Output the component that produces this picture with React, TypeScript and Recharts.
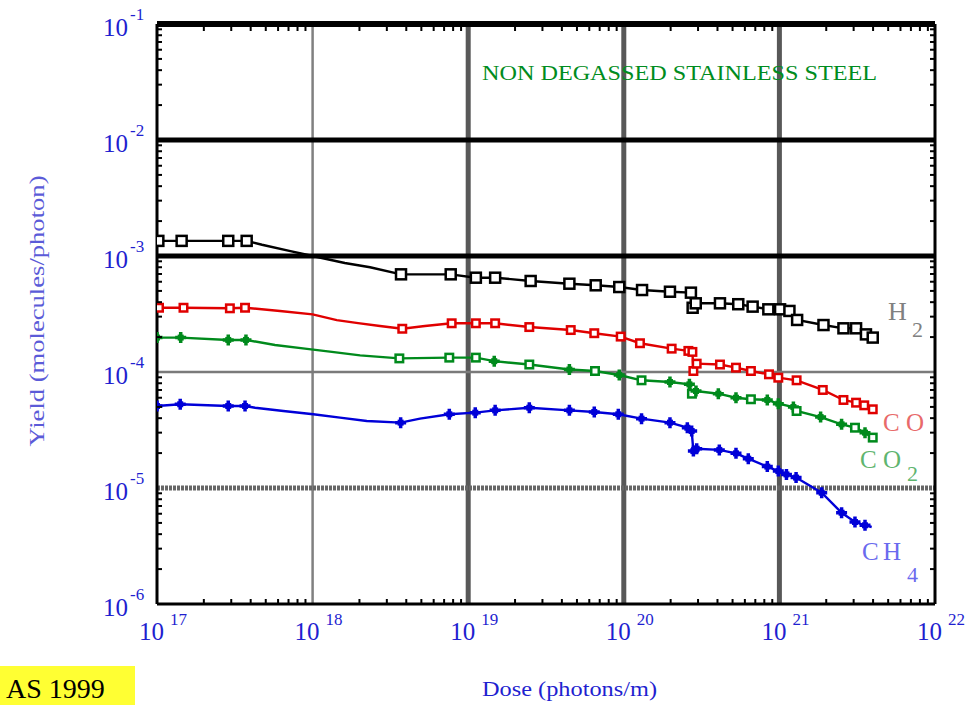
import React from "react"
import { LineChart, Line, XAxis, YAxis, ReferenceLine } from "recharts"

const W = 965
const H = 705
const PLOT = { left: 157, right: 935, top: 24, bottom: 604 }
const SERIF = '"Liberation Serif", "Times New Roman", serif'
const LABEL_BLUE = "#1f1fd0"

// axis decades and their exponent labels
const xDecades = [1e17, 1e18, 1e19, 1e20, 1e21, 1e22]
const xExponents = ["17", "18", "19", "20", "21", "22"]
const yDecades = [1e-6, 1e-5, 1e-4, 1e-3, 1e-2, 1e-1]
const yExponents = ["-6", "-5", "-4", "-3", "-2", "-1"]
const minorSteps = [2, 3, 4, 5, 6, 7, 8, 9]

// marker codes per point: s = open square, p = plus, - = no marker
const h2Dose = [1.02e17, 1.44e17, 2.87e17, 3.77e17, 4.73e17, 7.2e17, 1.0e18, 1.61e18, 2.34e18, 3.7e18, 7.72e18, 1.12e19, 1.49e19, 2.52e19, 4.47e19, 6.6e19, 9.35e19, 1.31e20, 1.98e20, 2.7e20, 2.77e20, 2.9e20, 4.15e20, 5.44e20, 6.73e20, 8.49e20, 1.01e21, 1.16e21, 1.3e21, 1.92e21, 2.58e21, 3.11e21, 3.6e21, 3.98e21]
const h2Yield = [1.35e-3, 1.35e-3, 1.35e-3, 1.35e-3, 1.25e-3, 1.1e-3, 1.0e-3, 8.7e-4, 8.0e-4, 6.95e-4, 6.95e-4, 6.5e-4, 6.5e-4, 6.09e-4, 5.77e-4, 5.59e-4, 5.4e-4, 5.09e-4, 4.92e-4, 4.83e-4, 3.58e-4, 3.91e-4, 3.91e-4, 3.84e-4, 3.66e-4, 3.47e-4, 3.47e-4, 3.36e-4, 2.81e-4, 2.54e-4, 2.38e-4, 2.38e-4, 2.11e-4, 1.98e-4]
const h2Marks = "ssss-----sssssssssssssssssssssssss"

const coDose = [1.03e17, 1.48e17, 2.94e17, 3.68e17, 6.17e17, 1.0e18, 1.43e18, 1.96e18, 2.71e18, 3.77e18, 5.27e18, 7.83e18, 1.12e19, 1.49e19, 2.47e19, 4.56e19, 6.46e19, 9.55e19, 1.27e20, 2.03e20, 2.6e20, 2.76e20, 2.8e20, 2.94e20, 4.15e20, 5.26e20, 6.56e20, 8.57e20, 9.84e20, 1.29e21, 1.9e21, 2.58e21, 3.11e21, 3.51e21, 3.98e21]
const coYield = [3.58e-4, 3.58e-4, 3.54e-4, 3.58e-4, 3.36e-4, 3.14e-4, 2.8e-4, 2.64e-4, 2.49e-4, 2.36e-4, 2.49e-4, 2.63e-4, 2.63e-4, 2.63e-4, 2.44e-4, 2.3e-4, 2.16e-4, 2.02e-4, 1.77e-4, 1.59e-4, 1.52e-4, 1.49e-4, 1.02e-4, 1.18e-4, 1.16e-4, 1.09e-4, 1.02e-4, 9.55e-5, 8.93e-5, 8.48e-5, 7.0e-5, 5.74e-5, 5.44e-5, 5.16e-5, 4.77e-5]
const coMarks = "ssss-----s-ssssssssssssssssssssssss"

const co2Dose = [1.0e17, 1.42e17, 2.87e17, 3.73e17, 5.73e17, 8.93e17, 1.33e18, 2.02e18, 3.61e18, 7.56e18, 1.12e19, 1.47e19, 2.47e19, 4.47e19, 6.53e19, 9.35e19, 1.3e20, 1.98e20, 2.64e20, 2.74e20, 2.91e20, 4.05e20, 5.26e20, 6.56e20, 8.36e20, 9.84e20, 1.23e21, 1.29e21, 1.84e21, 2.51e21, 3.06e21, 3.55e21, 3.98e21]
const co2Yield = [1.98e-4, 1.98e-4, 1.89e-4, 1.89e-4, 1.71e-4, 1.59e-4, 1.49e-4, 1.39e-4, 1.31e-4, 1.33e-4, 1.33e-4, 1.24e-4, 1.16e-4, 1.05e-4, 1.02e-4, 9.42e-5, 8.48e-5, 8.2e-5, 7.83e-5, 6.5e-5, 6.86e-5, 6.5e-5, 6.0e-5, 5.82e-5, 5.74e-5, 5.33e-5, 4.99e-5, 4.61e-5, 4.09e-5, 3.54e-5, 3.31e-5, 3.0e-5, 2.72e-5]
const co2Marks = "pppp----ssspspspsppspppspppsppsps"

const ch4Dose = [1.0e17, 1.41e17, 2.87e17, 3.68e17, 4.27e17, 6.49e17, 1.01e18, 1.5e18, 2.23e18, 3.68e18, 4.9e18, 7.56e18, 1.11e19, 1.49e19, 2.47e19, 4.47e19, 6.46e19, 9.22e19, 1.3e20, 1.98e20, 2.56e20, 2.73e20, 2.8e20, 2.94e20, 4.11e20, 5.26e20, 6.31e20, 8.36e20, 9.84e20, 1.11e21, 1.28e21, 1.87e21, 2.51e21, 3.06e21, 3.55e21, 3.92e21]
const ch4Yield = [5.09e-5, 5.27e-5, 5.09e-5, 5.09e-5, 4.92e-5, 4.61e-5, 4.32e-5, 4.04e-5, 3.78e-5, 3.66e-5, 3.96e-5, 4.32e-5, 4.46e-5, 4.67e-5, 4.92e-5, 4.67e-5, 4.52e-5, 4.32e-5, 3.96e-5, 3.66e-5, 3.31e-5, 3.1e-5, 2.08e-5, 2.18e-5, 2.13e-5, 1.99e-5, 1.79e-5, 1.53e-5, 1.4e-5, 1.31e-5, 1.23e-5, 9.1e-6, 6.12e-6, 5.09e-6, 4.77e-6, 4.61e-6]
const ch4Marks = "pppp-----p-pppppppppppppppppppppppp"

const toSeries = (dose: number[], yld: number[], marks: string) =>
  dose.map((d, i) => ({ dose: d, y: yld[i], m: marks[i] || "-" }))

const h2Data = toSeries(h2Dose, h2Yield, h2Marks)
const coData = toSeries(coDose, coYield, coMarks)
const co2Data = toSeries(co2Dose, co2Yield, co2Marks)
const ch4Data = toSeries(ch4Dose, ch4Yield, ch4Marks)

const withMinors = (decades: number[]) => [
  ...decades,
  ...decades.slice(0, -1).flatMap((d) => minorSteps.map((s) => s * d)),
]
const xTicks = withMinors(xDecades)
const yTicks = withMinors(yDecades)

const decadeIndex = (decades: number[], v: number) =>
  decades.findIndex((d) => Math.abs(v / d - 1) < 1e-6)

function XTick(props: any) {
  const { x, payload } = props
  const i = decadeIndex(xDecades, payload.value)
  if (i < 0) {
    return (
      <g>
        <line x1={x} x2={x} y1={PLOT.bottom} y2={PLOT.bottom - 5} stroke="#000" strokeWidth={2} />
        <line x1={x} x2={x} y1={PLOT.top + 3} y2={PLOT.top + 7} stroke="#000" strokeWidth={2} />
      </g>
    )
  }
  return (
    <g fontFamily={SERIF} fill={LABEL_BLUE}>
      <text x={x + 7} y={640} textAnchor="end" fontSize={25}>10</text>
      <text x={x + 13} y={625} fontSize={17}>{xExponents[i]}</text>
    </g>
  )
}

function YTick(props: any) {
  const { y, payload } = props
  const i = decadeIndex(yDecades, payload.value)
  if (i < 0) {
    return (
      <g>
        <line x1={PLOT.left} x2={PLOT.left + 5} y1={y} y2={y} stroke="#000" strokeWidth={2} />
        <line x1={PLOT.right} x2={PLOT.right - 5} y1={y} y2={y} stroke="#000" strokeWidth={2} />
      </g>
    )
  }
  return (
    <g fontFamily={SERIF} fill={LABEL_BLUE}>
      <text x={128} y={y + 12} textAnchor="end" fontSize={25}>10</text>
      <text x={130} y={y - 4} fontSize={17}>{yExponents[i]}</text>
    </g>
  )
}

const makeDot = (color: string, sq: number) => (props: any) => {
  const { cx, cy, payload, index } = props
  if (cx == null || cy == null || payload.m === "-") return <g key={index} />
  if (payload.m === "s") {
    return (
      <rect key={index} x={cx - sq / 2} y={cy - sq / 2} width={sq} height={sq}
        fill="#fff" stroke={color} strokeWidth={2.5} />
    )
  }
  return (
    <g key={index}>
      <path d={`M${cx - 5.5},${cy}H${cx + 5.5}M${cx},${cy - 5.5}V${cy + 5.5}`} stroke={color} strokeWidth={3.5} />
      <rect x={cx - 3} y={cy - 3} width={6} height={6} fill={color} />
    </g>
  )
}

export default function App() {
  return (
    <div style={{ position: "absolute", left: 0, top: 0, width: W, height: H, background: "#fff", overflow: "hidden" }}>
      <LineChart width={W} height={H} margin={{ top: 24, right: 30, bottom: 0, left: 0 }}>
        <XAxis dataKey="dose" type="number" scale="log" domain={[1e17, 1e22]} ticks={xTicks}
          interval={0} tick={<XTick />} tickLine={false} axisLine={false} height={101} allowDataOverflow />
        <YAxis type="number" scale="log" domain={[1e-6, 1e-1]} ticks={yTicks}
          interval={0} tick={<YTick />} tickLine={false} axisLine={false} width={157} allowDataOverflow />

        {/* grid */}
        <ReferenceLine x={1e18} stroke="#808080" strokeWidth={2.5} />
        <ReferenceLine x={1e19} stroke="#585858" strokeWidth={5} />
        <ReferenceLine x={1e20} stroke="#585858" strokeWidth={5} />
        <ReferenceLine x={1e21} stroke="#585858" strokeWidth={5} />
        <ReferenceLine y={1e-2} stroke="#000" strokeWidth={5} />
        <ReferenceLine y={1e-3} stroke="#000" strokeWidth={5} />
        <ReferenceLine y={1e-4} stroke="#7a7a7a" strokeWidth={2.5} />
        <ReferenceLine y={1e-5} stroke="#666" strokeWidth={5} strokeDasharray="3 1" />

        {/* frame */}
        <ReferenceLine y={1e-1} stroke="#000" strokeWidth={6} />
        <ReferenceLine y={1e-6} stroke="#000" strokeWidth={3} />
        <ReferenceLine x={1e17} stroke="#000" strokeWidth={3} />
        <ReferenceLine x={1e22} stroke="#000" strokeWidth={3} />

        <Line data={h2Data} dataKey="y" type="linear" stroke="#000" strokeWidth={2.4}
          dot={makeDot("#000", 10)} activeDot={false} isAnimationActive={false} />
        <Line data={coData} dataKey="y" type="linear" stroke="#e00000" strokeWidth={2.4}
          dot={makeDot("#e00000", 7.5)} activeDot={false} isAnimationActive={false} />
        <Line data={co2Data} dataKey="y" type="linear" stroke="#008a1c" strokeWidth={2.4}
          dot={makeDot("#008a1c", 7.5)} activeDot={false} isAnimationActive={false} />
        <Line data={ch4Data} dataKey="y" type="linear" stroke="#0000d8" strokeWidth={2.4}
          dot={makeDot("#0000d8", 7)} activeDot={false} isAnimationActive={false} />
      </LineChart>

      <svg width={W} height={H} style={{ position: "absolute", left: 0, top: 0, pointerEvents: "none" }}
        fontFamily={SERIF}>
        <text x={482} y={80} fontSize={20} fill="#008c20" textLength={395} lengthAdjust="spacingAndGlyphs">
          NON DEGASSED STAINLESS STEEL
        </text>

        <text x={888} y={320} fontSize={26} fill="#808080">H</text>
        <text x={912} y={337} fontSize={22} fill="#808080">2</text>
        <text y={431} fontSize={25} fill="#e86a6a">
          <tspan x={883}>C</tspan><tspan x={906}>O</tspan>
        </text>
        <text y={468} fontSize={25} fill="#5fb56f">
          <tspan x={860}>C</tspan><tspan x={883}>O</tspan>
        </text>
        <text x={907} y={481} fontSize={22} fill="#5fb56f">2</text>
        <text y={560} fontSize={25} fill="#6a6aee">
          <tspan x={862}>C</tspan><tspan x={883}>H</tspan>
        </text>
        <text x={907} y={582} fontSize={22} fill="#6a6aee">4</text>

        <text transform="translate(44,311) rotate(-90)" textAnchor="middle" fontSize={21}
          fill="#5b5bd8" textLength={271} lengthAdjust="spacingAndGlyphs">
          Yield (molecules/photon)
        </text>
        <text x={482} y={696} fontSize={21} fill={LABEL_BLUE} textLength={175} lengthAdjust="spacingAndGlyphs">
          Dose (photons/m)
        </text>

        <rect x={0} y={666} width={135} height={39} fill="#ffff33" />
        <text x={6} y={698} fontSize={28} fill="#000">AS 1999</text>
      </svg>
    </div>
  )
}
